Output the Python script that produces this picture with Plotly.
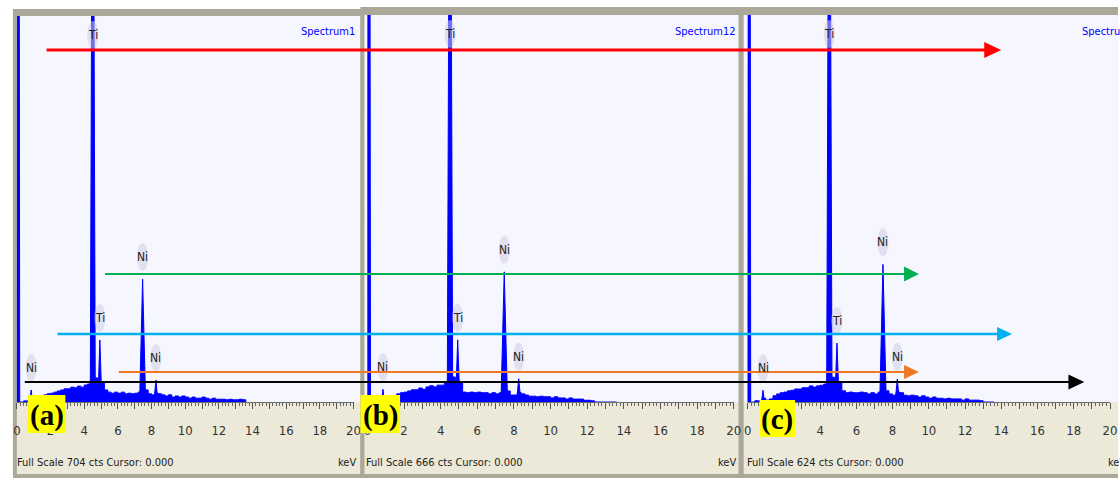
import plotly.graph_objects as go

W, H = 1120, 478

# ---- data -------------------------------------------------------------
SPECTRUM_NAMES = ["Spectrum1", "Spectrum12", "Spectrum8"]
PANEL_TAGS = ["(a)", "(b)", "(c)"]
FULL_SCALE = [704, 666, 624]          # cts at the top of each spectrum window

# continuum sampling grid (keV)
BKG_KEV = [0.2, 0.4, 0.6, 0.8, 1.0, 1.2, 1.4, 1.6, 1.8, 2.0,
           2.2, 2.4, 2.6, 2.8, 3.0, 3.2, 3.4, 3.6, 3.8, 4.0,
           4.2, 4.4, 4.6, 4.8, 5.0, 5.2, 5.4, 5.6, 5.8, 6.0,
           6.2, 6.4, 6.6, 6.8, 7.0, 7.2, 7.4, 7.6, 7.8, 8.0,
           8.2, 8.4, 8.6, 8.8, 9.0, 9.2, 9.4, 9.6, 9.8, 10.0,
           10.2, 10.4, 10.6, 10.8, 11.0, 11.2, 11.4, 11.6, 11.8, 12.0,
           12.2, 12.4, 12.6, 12.8, 13.0, 13.2, 13.4, 13.6]

BKG_A = [0, 2, 2, 5, 4, 2, 5, 13, 15, 16,
         18, 20, 22, 24, 24, 27, 26, 29, 27, 31,
         33, 40, 44, 33, 36, 22, 18, 16, 18, 16,
         18, 15, 16, 15, 16, 18, 26, 22, 15, 13,
         16, 15, 13, 11, 13, 9, 11, 9, 11, 9,
         7, 9, 7, 7, 9, 7, 5, 7, 5, 5,
         5, 4, 5, 4, 4, 5, 4, 0]
BKG_B = [0, 2, 2, 7, 3, 3, 10, 14, 16, 17,
         19, 21, 21, 24, 22, 26, 28, 26, 29, 29,
         33, 41, 43, 33, 35, 17, 16, 17, 16, 17,
         16, 16, 14, 16, 14, 16, 24, 19, 12, 12,
         16, 14, 12, 10, 10, 9, 10, 9, 9, 7,
         9, 7, 7, 5, 7, 5, 5, 5, 3, 3,
         2, 0, 0, 0, 0, 0, 0, 0]
BKG_C = [0, 2, 2, 6, 3, 5, 10, 13, 15, 16,
         18, 19, 21, 21, 23, 23, 26, 24, 26, 27,
         29, 37, 40, 29, 31, 18, 15, 16, 15, 15,
         16, 15, 13, 15, 13, 16, 24, 18, 13, 11,
         16, 15, 11, 10, 11, 10, 8, 10, 8, 6,
         8, 6, 6, 5, 6, 5, 5, 5, 3, 5,
         3, 3, 3, 2, 0, 0, 0, 0]

# characteristic lines: zero-energy strobe, Ni L, Ti Ka, Ti Kb, Ni Ka, Ni Kb
PEAK_KEV = [0.08, 0.85, 4.51, 4.93, 7.47, 8.26]
PEAK_LABEL = ["", "Ni", "Ti", "Ti", "Ni", "Ni"]
PEAK_A = [2600, 22, 1400, 113, 224, 40]
PEAK_B = [2600, 22, 1330, 107, 224, 40]
PEAK_C = [2600, 19, 1250, 95, 222, 37]

KEV_TICKS = list(range(0, 21))

# ---- styling / layout --------------------------------------------------
BLUE = "#0000FF"
FRAME = "#ACA899"
RULER = "#ECE9D8"
PLOT_BG = "#F6F7FE"
NARROW = "Liberation Sans Narrow, DejaVu Sans Condensed, Arial Narrow, Liberation Sans, sans-serif"
PEAK_HALF_WIDTH = [0.09, 0.08, 0.15, 0.12, 0.18, 0.12]


def px(xp):
    return xp / W


def py(yp):
    return 1 - yp / H


# pixel geometry of each spectrum window
PANELS = [
    dict(axis0=13, axis1=353, top=16, bg0=13, bg1=360, frame_top=9, frame0=9, frame1=362,
         name_x=357, name_anchor="right", fs_x=11, kev_x=358, kev_anchor="right",
         tag_box=(24, 62, 395, 433)),
    dict(axis0=367, axis1=737, top=15, bg0=364, bg1=742, frame_top=7, frame0=360, frame1=746,
         name_x=741, name_anchor="right", fs_x=364, kev_x=741, kev_anchor="right",
         tag_box=(360, 400, 395, 433)),
    dict(axis0=751, axis1=1117, top=15, bg0=747, bg1=1125, frame_top=7, frame0=742, frame1=1125,
         name_x=1087, name_anchor="left", fs_x=748, kev_x=1113, kev_anchor="left",
         tag_box=(763, 799, 400, 437)),
]
BASELINE = 402
RULER_BOTTOM = 474

# overlay arrows: colour, start x, tip x, y, line width, head length, head height (pixels)
ARROWS = [
    ("#FF0000", 43, 1007, 50, 3.2, 17, 16),
    ("#00B050", 102, 924, 274, 2.2, 15, 15),
    ("#00B0F0", 54, 1018, 334, 2.6, 15, 14),
    ("#F07822", 116, 924, 372, 2.2, 15, 14),
    ("#000000", 21, 1091, 382, 1.8, 16, 15),
]

bkgs = [BKG_A, BKG_B, BKG_C]
peaks = [PEAK_A, PEAK_B, PEAK_C]

fig = go.Figure()
shapes = []
annotations = []
layout = {}

for i, p in enumerate(PANELS):
    n = "" if i == 0 else str(i + 1)
    xa, ya = "x" + n, "y" + n
    fs = FULL_SCALE[i]

    # window frame, plotting area and ruler strip
    shapes.append(dict(type="rect", xref="paper", yref="paper", layer="below",
                       x0=px(p["frame0"]), x1=px(p["frame1"]), y0=py(H + 2), y1=py(p["frame_top"]),
                       fillcolor=FRAME, line=dict(width=0)))
    shapes.append(dict(type="rect", xref="paper", yref="paper", layer="below",
                       x0=px(p["bg0"]), x1=px(p["bg1"]), y0=py(BASELINE), y1=py(p["top"]),
                       fillcolor=PLOT_BG, line=dict(width=0)))
    shapes.append(dict(type="rect", xref="paper", yref="paper", layer="below",
                       x0=px(p["bg0"]), x1=px(p["bg1"]), y0=py(RULER_BOTTOM), y1=py(BASELINE),
                       fillcolor=RULER, line=dict(width=0)))

    layout["xaxis" + n] = dict(
        domain=[px(p["axis0"]), px(p["axis1"])], range=[0, 20], anchor=ya,
        showgrid=False, zeroline=False, showline=True, linecolor="#6E6E6E", linewidth=1,
        ticks="outside", ticklen=6, tickwidth=1, tickcolor="#555555",
        tickmode="array", tickvals=KEV_TICKS,
        ticktext=[str(v) if v % 2 == 0 else "" for v in KEV_TICKS],
        tickfont=dict(family=NARROW, size=13, color="#333333"),
        ticklabelstandoff=10,
        minor=dict(dtick=0.2, ticklen=3, tickcolor="#666666", ticks="outside", showgrid=False),
        fixedrange=True,
    )
    layout["yaxis" + n] = dict(
        domain=[py(BASELINE), py(p["top"])], range=[0, fs], anchor=xa,
        visible=False, fixedrange=True,
    )

    # continuum
    fig.add_trace(go.Scatter(
        x=BKG_KEV, y=bkgs[i], mode="lines", xaxis=xa, yaxis=ya,
        line=dict(color=BLUE, width=1, shape="hv"), fill="tozeroy", fillcolor=BLUE,
        hoverinfo="skip",
    ))

    # characteristic peaks and their element labels
    for e, h, lab, w in zip(PEAK_KEV, peaks[i], PEAK_LABEL, PEAK_HALF_WIDTH):
        fig.add_trace(go.Scatter(
            x=[e - w, e, e + w], y=[0, h, 0], mode="lines", xaxis=xa, yaxis=ya,
            line=dict(color=BLUE, width=1), fill="toself", fillcolor=BLUE,
            hoverinfo="skip",
        ))
        if not lab:
            continue
        anchor_y = min(h, fs)
        shift = -19 if h >= fs else 22
        shapes.append(dict(type="circle", xref=xa, yref=ya,
                           xsizemode="pixel", ysizemode="pixel",
                           xanchor=e, yanchor=anchor_y,
                           x0=-5.5, x1=5.5, y0=shift - 14, y1=shift + 14,
                           fillcolor="rgba(205,205,228,0.55)", line=dict(width=0)))
        annotations.append(dict(x=e, y=anchor_y, xref=xa, yref=ya, text=lab,
                                showarrow=False, yshift=shift,
                                font=dict(family=NARROW, size=12, color="#222222")))

    # window captions
    annotations.append(dict(x=px(p["name_x"]), y=py(32), xref="paper", yref="paper",
                            text=SPECTRUM_NAMES[i], showarrow=False,
                            xanchor=p["name_anchor"], yanchor="middle",
                            font=dict(family=NARROW, size=11, color=BLUE)))
    annotations.append(dict(x=px(p["fs_x"]), y=py(462), xref="paper", yref="paper",
                            text=f"Full Scale {fs} cts Cursor: 0.000", showarrow=False,
                            xanchor="left", yanchor="middle",
                            font=dict(family=NARROW, size=11, color="#222222")))
    annotations.append(dict(x=px(p["kev_x"]), y=py(462), xref="paper", yref="paper",
                            text="keV", showarrow=False,
                            xanchor=p["kev_anchor"], yanchor="middle",
                            font=dict(family=NARROW, size=11, color="#222222")))

    # panel tag on a yellow patch
    bx0, bx1, by0, by1 = p["tag_box"]
    shapes.append(dict(type="rect", xref="paper", yref="paper", layer="above",
                       x0=px(bx0), x1=px(bx1), y0=py(by1), y1=py(by0),
                       fillcolor="#FFFF00", line=dict(width=0)))
    annotations.append(dict(x=px((bx0 + bx1) / 2), y=py((by0 + by1) / 2 + 1),
                            xref="paper", yref="paper", text=f"<b>{PANEL_TAGS[i]}</b>",
                            showarrow=False, xanchor="center", yanchor="middle",
                            font=dict(family="Liberation Serif, DejaVu Serif, serif",
                                      size=29, color="#000000")))

# overlay arrows spanning the three windows
for color, xs, xt, yp_, lw, hl, hh in ARROWS:
    shapes.append(dict(type="line", xref="paper", yref="paper", layer="above",
                       x0=px(xs), x1=px(xt - hl + 1), y0=py(yp_), y1=py(yp_),
                       line=dict(color=color, width=lw)))
    shapes.append(dict(type="path", xref="paper", yref="paper", layer="above",
                       path=(f"M {px(xt - hl)},{py(yp_ - hh / 2)} "
                             f"L {px(xt)},{py(yp_)} "
                             f"L {px(xt - hl)},{py(yp_ + hh / 2)} Z"),
                       fillcolor=color, line=dict(color=color, width=0)))

fig.update_layout(
    width=W, height=H, margin=dict(l=0, r=0, t=0, b=0),
    paper_bgcolor="white", plot_bgcolor="rgba(0,0,0,0)",
    showlegend=False, shapes=shapes, annotations=annotations,
    **layout,
)

fig.write_html("out.html", config={"displayModeBar": False})
